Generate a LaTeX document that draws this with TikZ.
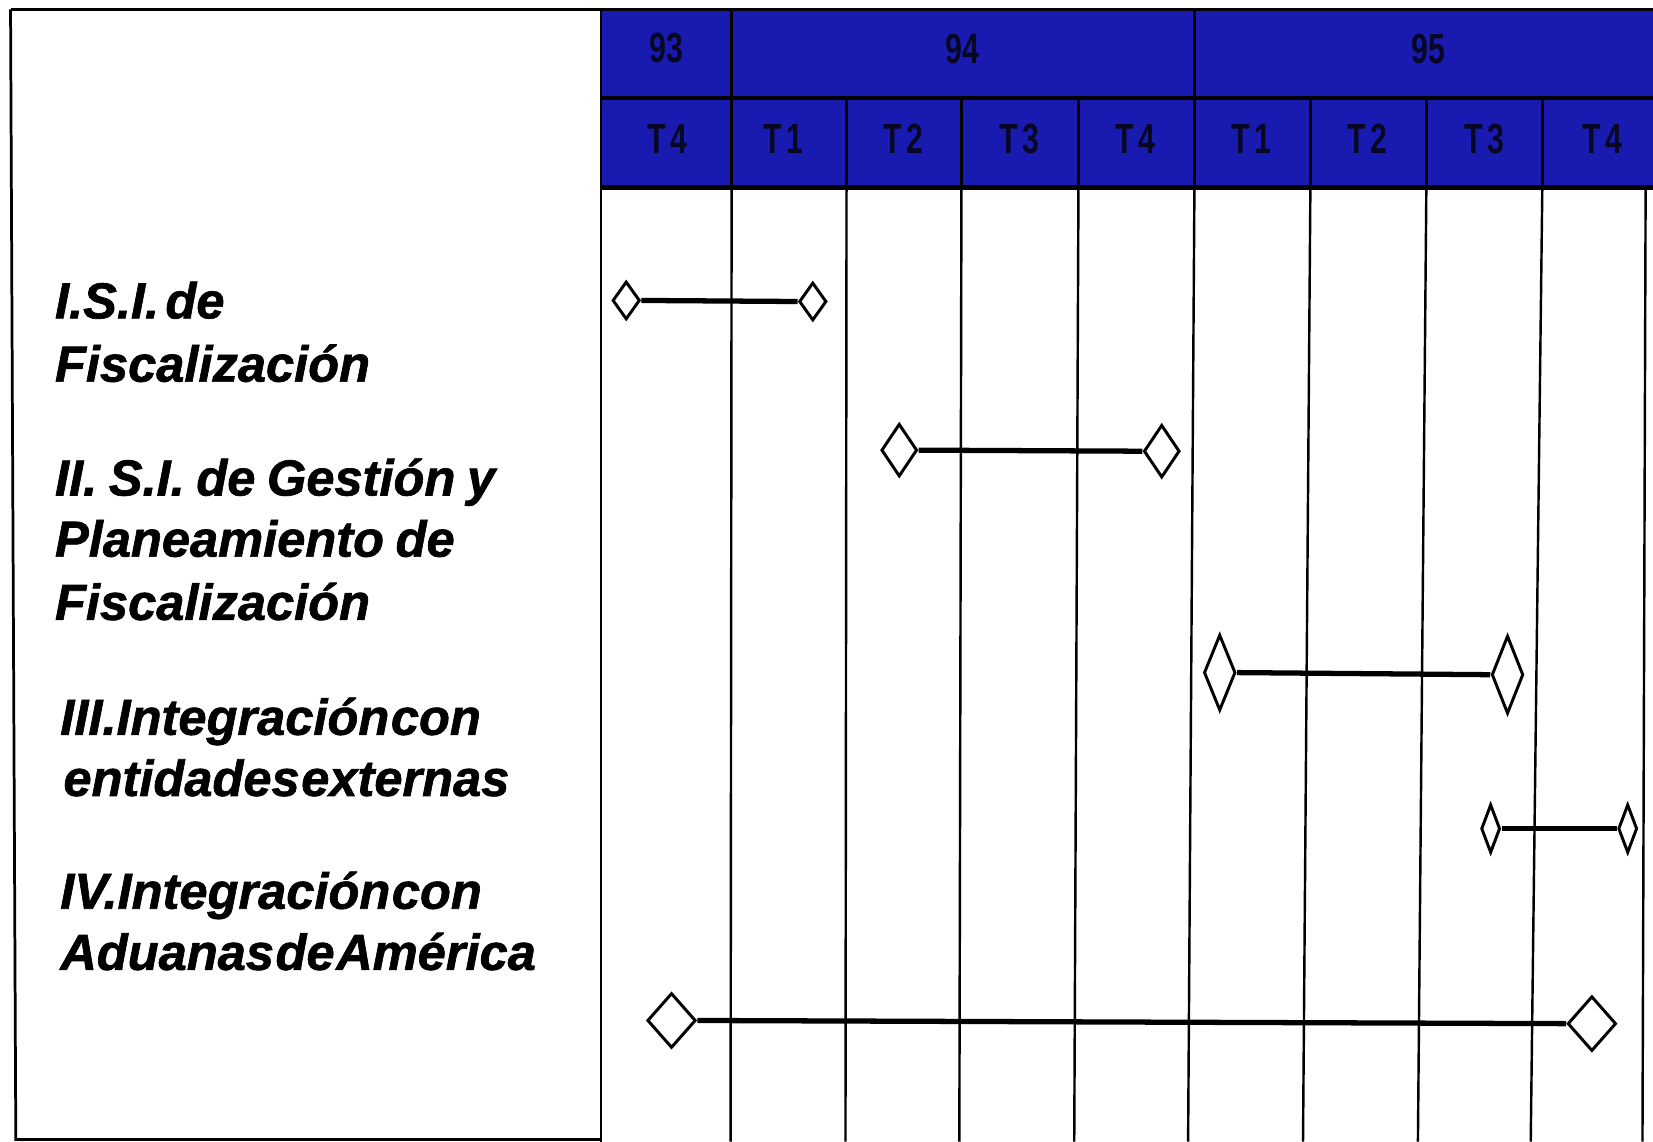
\documentclass[tikz,border=0pt]{standalone}
\usepackage{fontspec}
\setmainfont{Liberation Sans}
\newfontfamily\taskfamily[BoldItalicFeatures={FakeBold=1.3}]{Liberation Sans}
\usetikzlibrary{shapes.geometric}
\definecolor{hdrblue}{RGB}{24,26,176}
\definecolor{hdrtext}{RGB}{8,8,36}
\newcommand\tasklblfont{\taskfamily\fontsize{48}{58}\selectfont\bfseries\itshape\spaceskip=6pt plus 2pt\relax}
\newcommand\tightlblfont{\taskfamily\fontsize{48}{58}\selectfont\bfseries\itshape\spaceskip=1.5pt plus 1pt\relax}
\newcommand\widelblfont{\taskfamily\fontsize{48}{58}\selectfont\bfseries\itshape\spaceskip=11pt plus 2pt\relax}
\newcommand\tsp{\hspace{6pt}}
\begin{document}
\begin{tikzpicture}[x=1pt,y=-1pt,
  frame/.style={line width=2.6pt},
  gridline/.style={line width=2.3pt},
  ms/.style={diamond, draw, fill=white, line width=2.8pt, inner sep=0pt},
  bar/.style={line width=5pt},
  lbl/.style={anchor=base west, inner sep=0pt, font=\tasklblfont},
  tight/.style={font=\tightlblfont},
  wide/.style={font=\widelblfont},
  hdr/.style={font=\fontsize{40}{40}\selectfont\bfseries, text=hdrtext, inner sep=0pt, xscale=0.72}
]
\useasboundingbox (0,0) rectangle (1568,1083);
\fill[white] (0,0) rectangle (1568,1083);
% header band
\fill[hdrblue] (570,9) rectangle (1568,178);
% left panel frame
\draw[frame] (10,9) -- (1568,9);
\draw[frame] (10,9) -- (15,1081) -- (570,1081);
% header lines
\draw[line width=3pt] (570,93) -- (1568,93);
\draw[line width=5pt] (570,178) -- (1568,178);
\draw[gridline] (694,9) -- (694,178);
\draw[gridline] (1133,9) -- (1133,178);
\foreach \x in {803,912,1023,1243,1353,1463}
  \draw[gridline] (\x,93) -- (\x,178);
% body vertical lines
\foreach \t/\b in {570/570,694/693,803/802,912/910,1023/1019,1133/1127,1243/1236,1353/1345,1463/1452,1561/1558}
  \draw[gridline] (\t,178) -- (\b,1083);
\draw[gridline] (570,9) -- (570,178);
% header labels
\node[hdr] (y93) at (632,46) {93};
\node[hdr] (y94) at (913,46) {94};
\node[hdr] (y95) at (1355,46) {95};
\node[hdr] (q1) at (633,132) {T\tsp4};
\node[hdr] (q2) at (743,132) {T\tsp1};
\node[hdr] (q3) at (857,132) {T\tsp2};
\node[hdr] (q4) at (967,132) {T\tsp3};
\node[hdr] (q5) at (1077,132) {T\tsp4};
\node[hdr] (q6) at (1187,132) {T\tsp1};
\node[hdr] (q7) at (1297,132) {T\tsp2};
\node[hdr] (q8) at (1408,132) {T\tsp3};
\node[hdr] (q9) at (1520,132) {T\tsp4};
% task labels
\node[lbl] (a1) at (52,302) {I.S.I. de};
\node[lbl] (a2) at (52,362) {Fiscalización};
\node[lbl, wide] (b1) at (52,470) {II. S.I. de Gestión y};
\node[lbl, wide] (b2) at (52,528) {Planeamiento de};
\node[lbl] (b3) at (52,588) {Fiscalización};
\node[lbl, tight] (c1) at (57,697) {III.Integración con};
\node[lbl, tight] (c2) at (60,755) {entidades externas};
\node[lbl, tight] (d1) at (57,862) {IV.Integración con};
\node[lbl, tight] (d2) at (57,920) {Aduanas de América};
% milestones
\node[ms, minimum width=26pt, minimum height=36pt] (s1) at (594,285) {};
\node[ms, minimum width=26pt, minimum height=36pt] (e1) at (771,286) {};
\node[ms, minimum width=34pt, minimum height=50pt] (s2) at (853,427) {};
\node[ms, minimum width=34pt, minimum height=50pt] (e2) at (1102,428) {};
\node[ms, minimum width=30pt, minimum height=72pt] (s3) at (1157,638) {};
\node[ms, minimum width=30pt, minimum height=74pt] (e3) at (1430,640) {};
\node[ms, minimum width=18pt, minimum height=46pt] (s4) at (1414,786) {};
\node[ms, minimum width=18pt, minimum height=46pt] (e4) at (1544,786) {};
\node[ms, minimum width=46pt, minimum height=52pt] (s5) at (637,968) {};
\node[ms, minimum width=46pt, minimum height=52pt] (e5) at (1510,971) {};
% bars
\draw[bar] (s1.east) -- (e1.west);
\draw[bar] (s2.east) -- (e2.west);
\draw[bar] (s3.east) -- (e3.west);
\draw[bar] (s4.east) -- (e4.west);
\draw[bar] (s5.east) -- (e5.west);
\end{tikzpicture}
\end{document}
